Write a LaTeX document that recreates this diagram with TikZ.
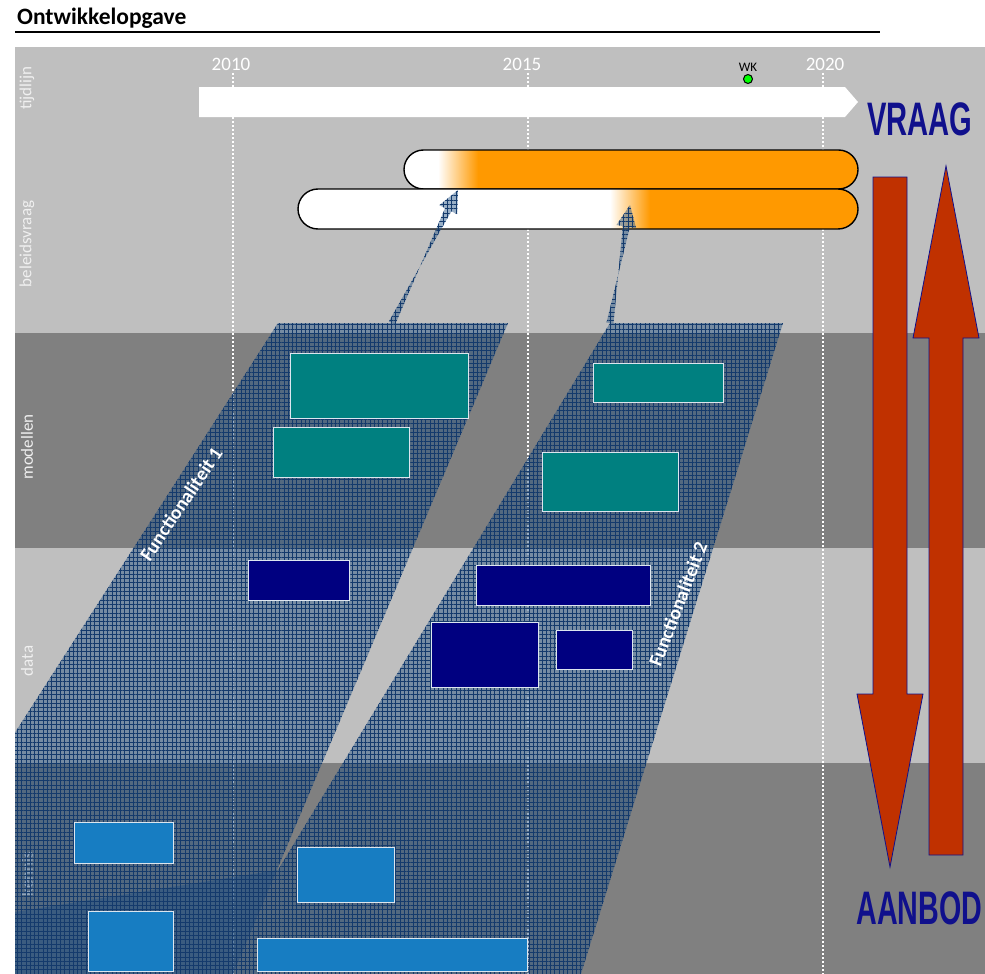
\documentclass[tikz,border=0pt]{standalone}
\usepackage{fontspec}
\setmainfont{Carlito}
\newfontfamily\arialfont{Liberation Sans}
\usetikzlibrary{calc,patterns.meta}
\definecolor{lgray}{RGB}{191,191,191}
\definecolor{dgray}{RGB}{128,128,128}
\definecolor{barorange}{RGB}{255,153,0}
\definecolor{mteal}{RGB}{0,128,128}
\definecolor{dnavy}{RGB}{0,0,128}
\definecolor{kblue}{RGB}{23,125,194}
\definecolor{bigred}{RGB}{192,49,0}
\definecolor{txtnavy}{RGB}{16,16,140}
\definecolor{funcblue}{RGB}{30,78,130}
\definecolor{gridline}{RGB}{20,58,108}
\definecolor{boxline}{RGB}{220,230,240}
\definecolor{sidetxt}{RGB}{240,240,240}
\definecolor{wkgreen}{RGB}{0,255,0}
\tikzset{
  sidelabel/.style={rotate=90, text=sidetxt, font=\fontsize{17}{19}\selectfont, inner sep=0pt},
  yearlabel/.style={text=white, font=\fontsize{19}{21}\selectfont, inner sep=0pt},
  yearline/.style={white, line width=1.3pt, dash pattern=on 2pt off 2pt},
  capsule/.style={draw=black, line width=1.4pt},
  funcarea/.style={preaction={fill=funcblue, fill opacity=0.45},
    pattern={Hatch[angle=0,distance=4.3pt,line width=0.45pt]}, pattern color=gridline},
  box/.style={draw=boxline, line width=1pt, inner sep=0pt, outer sep=0pt, anchor=north west},
  functext/.style={text=white, font=\bfseries\fontsize{19.5}{21}\selectfont, inner sep=0pt},
  bigarrow/.style={fill=bigred, draw=txtnavy, line width=0.8pt, line join=miter},
  vatext/.style={text=txtnavy, font=\arialfont\bfseries\fontsize{47}{50}\selectfont, inner sep=0pt}
}
\begin{document}
\begin{tikzpicture}[x=1pt,y=-1pt]
\useasboundingbox (0,0) rectangle (985,974);
% title
\node[anchor=base west, font=\bfseries\fontsize{23.5}{25}\selectfont, inner sep=0pt] (title) at (17,25) {Ontwikkelopgave};
\coordinate (ruleL) at (15,32); \coordinate (ruleR) at (880,32);
\draw[line width=1.3pt] (ruleL) -- (ruleR);
% background bands
\fill[lgray] (15,47) rectangle (985,974);
\fill[dgray] (15,333) rectangle (985,548);
\fill[dgray] (15,763) rectangle (985,974);
% side labels
\node[sidelabel] (lbtijd) at (27,88) {tijdlijn};
\node[sidelabel] (lbbel) at (27,244) {beleidsvraag};
\node[sidelabel] (lbmod) at (27,447) {modellen};
\node[sidelabel] (lbdata) at (27,661) {data};
\node[sidelabel] (lbkennis) at (27,874) {kennis};
% year lines
\coordinate (y10t) at (233,73); \coordinate (y10b) at (233,974);
\coordinate (y15t) at (528,73); \coordinate (y15b) at (528,974);
\coordinate (y20t) at (823,73); \coordinate (y20b) at (823,974);
\draw[yearline] (y10t) -- (y10b);
\draw[yearline] (y15t) -- (y15b);
\draw[yearline] (y20t) -- (y20b);
\node[yearlabel] (yr10) at (231,64.5) {2010};
\node[yearlabel] (yr15) at (522,64.5) {2015};
\node[yearlabel] (yr20) at (825,64.5) {2020};
% WK
\node[font=\fontsize{13}{14}\selectfont, inner sep=0pt] (wk) at (748,67.5) {WK};
\node[circle, fill=wkgreen, draw=black, line width=1pt, minimum size=9pt, inner sep=0pt] (wkdot) at (748,79) {};
% timeline arrow
\fill[white] (199,87) -- (845,87) -- (858,102) -- (845,117) -- (199,117) -- cycle;
% beleidsvraag bars
\fill[white, rounded corners=19.5pt] (404,150) rectangle (858,189);
\begin{scope}
  \clip[rounded corners=19.5pt] (404,150) rectangle (858,189);
  \shade[left color=white, right color=barorange] (438,148) rectangle (478,191);
  \fill[barorange] (477.5,148) rectangle (860,191);
\end{scope}
\draw[capsule, rounded corners=19.5pt] (404,150) rectangle (858,189);
\fill[white, rounded corners=20pt] (298,189) rectangle (858,229);
\begin{scope}
  \clip[rounded corners=20pt] (298,189) rectangle (858,229);
  \shade[left color=white, right color=barorange] (610,187) rectangle (650,231);
  \fill[barorange] (649.5,187) rectangle (860,231);
\end{scope}
\draw[capsule, rounded corners=20pt] (298,189) rectangle (858,229);
% functionality areas
\begin{scope}
  \clip (15,47) rectangle (985,974);
  \path[funcarea] (278,323) -- (508,323) -- (233,974) -- (-140,974) -- cycle;
  \path[funcarea] (610,323) -- (783,323) -- (581,974) -- (-10,974) -- (-10,916) -- (278,870) -- cycle;
\end{scope}
% arrows to bars
\coordinate (a1s) at (392,323); \coordinate (a1e) at (458,190);
\coordinate (a1h) at ($(a1e)!22pt!(a1s)$);
\path[funcarea] ($(a1s)!3.5pt!90:(a1e)$) -- ($(a1h)!3.5pt!-90:(a1e)$) -- ($(a1h)!10pt!-90:(a1e)$) -- (a1e)
  -- ($(a1h)!10pt!90:(a1e)$) -- ($(a1h)!3.5pt!90:(a1e)$) -- ($(a1s)!3.5pt!-90:(a1e)$) -- cycle;
\coordinate (a2s) at (610,323); \coordinate (a2e) at (630,205);
\coordinate (a2h) at ($(a2e)!22pt!(a2s)$);
\path[funcarea] ($(a2s)!3.5pt!90:(a2e)$) -- ($(a2h)!3.5pt!-90:(a2e)$) -- ($(a2h)!10pt!-90:(a2e)$) -- (a2e)
  -- ($(a2h)!10pt!90:(a2e)$) -- ($(a2h)!3.5pt!90:(a2e)$) -- ($(a2s)!3.5pt!-90:(a2e)$) -- cycle;
% model boxes
\node[box, fill=mteal, minimum width=178pt, minimum height=65pt] (m1) at (290,353) {};
\node[box, fill=mteal, minimum width=136pt, minimum height=50pt] (m2) at (273,427) {};
\node[box, fill=mteal, minimum width=130pt, minimum height=39pt] (m3) at (593,363) {};
\node[box, fill=mteal, minimum width=136pt, minimum height=59pt] (m4) at (542,452) {};
% data boxes
\node[box, fill=dnavy, minimum width=101pt, minimum height=40pt] (d1) at (248,560) {};
\node[box, fill=dnavy, minimum width=174pt, minimum height=40pt] (d2) at (476,565) {};
\node[box, fill=dnavy, minimum width=107pt, minimum height=65pt] (d3) at (431,622) {};
\node[box, fill=dnavy, minimum width=76pt, minimum height=39pt] (d4) at (556,630) {};
% kennis boxes
\node[box, fill=kblue, minimum width=99pt, minimum height=41pt] (k1) at (74,822) {};
\node[box, fill=kblue, minimum width=85pt, minimum height=60pt] (k2) at (88,911) {};
\node[box, fill=kblue, minimum width=97pt, minimum height=55pt] (k3) at (297,847) {};
\node[box, fill=kblue, minimum width=270pt, minimum height=33pt] (k4) at (257,938) {};
% functionality labels
\node[functext, rotate=56] (f1) at (181,504) {Functionaliteit 1};
\node[functext, rotate=69] (f2) at (678,604) {Functionaliteit 2};
% big arrows
\draw[bigarrow] (873,177) -- (907,177) -- (907,694) -- (923,694) -- (890,867) -- (857,694) -- (873,694) -- cycle;
\draw[bigarrow] (929,855) -- (963,855) -- (963,338) -- (979,338) -- (946,166) -- (913,338) -- (929,338) -- cycle;
\node[vatext] (vraag) at (920,119) {\scalebox{0.62}[1]{VRAAG}};
\node[vatext] (aanbod) at (919.5,908) {\scalebox{0.61}[1]{AANBOD}};
\end{tikzpicture}
\end{document}
